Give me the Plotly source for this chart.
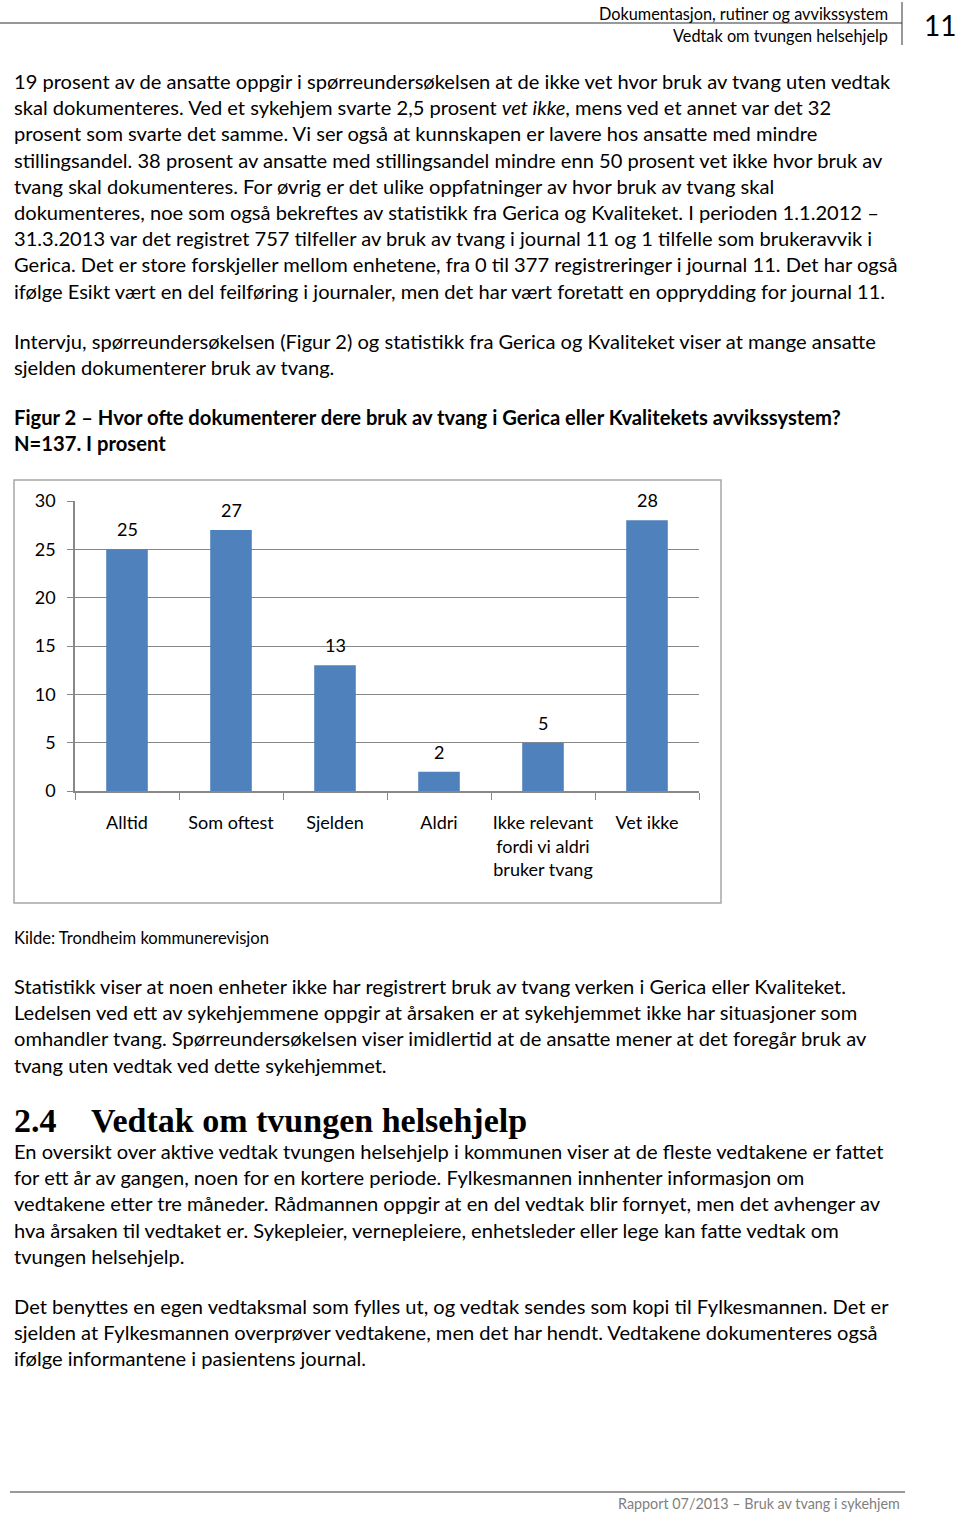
import plotly.graph_objects as go

W, H = 960, 1513
BODY = "Lato"
SERIF = "Liberation Serif"
INK = "#000000"
BAR = "#4f81bd"
GRID = "#888888"

# data (Figur 2, prosent)
categories = ["Alltid", "Som oftest", "Sjelden", "Aldri",
              "Ikke relevant<br>fordi vi aldri<br>bruker tvang", "Vet ikke"]
values = [25, 27, 13, 2, 5, 28]
y_ticks = [0, 5, 10, 15, 20, 25, 30]

header_lines = ["Dokumentasjon, rutiner og avvikssystem", "Vedtak om tvungen helsehjelp"]
page_no = "11"

para1 = [
    "19 prosent av de ansatte oppgir i spørreundersøkelsen at de ikke vet hvor bruk av tvang uten vedtak",
    "skal dokumenteres. Ved et sykehjem svarte 2,5 prosent <i>vet ikke</i>, mens ved et annet var det 32",
    "prosent som svarte det samme. Vi ser også at kunnskapen er lavere hos ansatte med mindre",
    "stillingsandel. 38 prosent av ansatte med stillingsandel mindre enn 50 prosent vet ikke hvor bruk av",
    "tvang skal dokumenteres. For øvrig er det ulike oppfatninger av hvor bruk av tvang skal",
    "dokumenteres, noe som også bekreftes av statistikk fra Gerica og Kvaliteket. I perioden 1.1.2012 –",
    "31.3.2013 var det registret 757 tilfeller av bruk av tvang i journal 11 og 1 tilfelle som brukeravvik i",
    "Gerica. Det er store forskjeller mellom enhetene, fra 0 til 377 registreringer i journal 11. Det har også",
    "ifølge Esikt vært en del feilføring i journaler, men det har vært foretatt en opprydding for journal 11.",
]
para2 = [
    "Intervju, spørreundersøkelsen (Figur 2) og statistikk fra Gerica og Kvaliteket viser at mange ansatte",
    "sjelden dokumenterer bruk av tvang.",
]
fig_title = [
    "<b>Figur 2 – Hvor ofte dokumenterer dere bruk av tvang i Gerica eller Kvalitekets avvikssystem?</b>",
    "<b>N=137. I prosent</b>",
]
source = "Kilde: Trondheim kommunerevisjon"
para3 = [
    "Statistikk viser at noen enheter ikke har registrert bruk av tvang verken i Gerica eller Kvaliteket.",
    "Ledelsen ved ett av sykehjemmene oppgir at årsaken er at sykehjemmet ikke har situasjoner som",
    "omhandler tvang. Spørreundersøkelsen viser imidlertid at de ansatte mener at det foregår bruk av",
    "tvang uten vedtak ved dette sykehjemmet.",
]
heading = "<b>2.4</b>"
heading_txt = "<b>Vedtak om tvungen helsehjelp</b>"
para4 = [
    "En oversikt over aktive vedtak tvungen helsehjelp i kommunen viser at de fleste vedtakene er fattet",
    "for ett år av gangen, noen for en kortere periode. Fylkesmannen innhenter informasjon om",
    "vedtakene etter tre måneder. Rådmannen oppgir at en del vedtak blir fornyet, men det avhenger av",
    "hva årsaken til vedtaket er. Sykepleier, vernepleiere, enhetsleder eller lege kan fatte vedtak om",
    "tvungen helsehjelp.",
]
para5 = [
    "Det benyttes en egen vedtaksmal som fylles ut, og vedtak sendes som kopi til Fylkesmannen. Det er",
    "sjelden at Fylkesmannen overprøver vedtakene, men det har hendt. Vedtakene dokumenteres også",
    "ifølge informantene i pasientens journal.",
]
footer = "Rapport 07/2013 – Bruk av tvang i sykehjem"

TXT = 20.1


def px(x):
    # page pixel -> paper fraction
    return x / W


def py(y):
    return 1 - y / H


def note(text, x, y, size, anchor="left", family=BODY, color=INK):
    return dict(text=text, x=px(x), y=py(y), xref="paper", yref="paper",
                xanchor=anchor, yanchor="middle", showarrow=False,
                font=dict(family=family, size=size, color=color))


def text_block(lines, y0, step=26.2, size=TXT):
    return [note(t, 12, y0 + i * step, size) for i, t in enumerate(lines)]


fig = go.Figure(go.Bar(x=categories, y=values, marker=dict(color=BAR, line=dict(width=0)),
                       hoverinfo="skip"))

ann = []
ann += text_block(para1, 81)
ann += text_block(para2, 341)
ann += text_block(fig_title, 417, step=26, size=20.2)
ann += text_block([source], 938, size=16.6)
ann += text_block(para3, 986)
ann += text_block(para4, 1151)
ann += text_block(para5, 1306)

# header / footer / heading
ann += [note(header_lines[0], 890, 13, 16.3, "right"),
        note(header_lines[1], 890, 35, 16.3, "right"),
        note(page_no, 958, 25, 28, "right"),
        note(footer, 902, 1503, 14.35, "right", color="#7f7f7f"),
        note(heading, 12, 1120, 34, family=SERIF),
        note(heading_txt, 89, 1120, 34, family=SERIF)]

# data labels above bars
for c, v in zip(categories, values):
    ann.append(dict(text=str(v), x=c, y=v, xref="x", yref="y", yanchor="bottom",
                    yshift=7, showarrow=False, font=dict(family=BODY, size=18, color=INK)))

shapes = [
    dict(type="line", xref="paper", yref="paper", x0=0, x1=px(902), y0=py(23), y1=py(23),
         line=dict(color="#333333", width=1)),
    dict(type="line", xref="paper", yref="paper", x0=px(902), x1=px(902), y0=py(2), y1=py(45),
         line=dict(color="#333333", width=1)),
    dict(type="line", xref="paper", yref="paper", x0=px(10), x1=px(905), y0=py(1492), y1=py(1492),
         line=dict(color="#333333", width=1)),
    dict(type="rect", xref="paper", yref="paper", x0=px(14), x1=px(721), y0=py(480), y1=py(903),
         line=dict(color="#a6a6a6", width=1.5)),
]

fig.update_layout(
    width=W, height=H, margin=dict(l=0, r=0, t=0, b=0, autoexpand=False),
    paper_bgcolor="white", plot_bgcolor="white", showlegend=False,
    font=dict(family=BODY, size=18, color=INK),
    bargap=0.6,
    xaxis=dict(domain=[px(75), px(699)], showline=True, linecolor=GRID, linewidth=1.5,
               ticks="outside", tickson="boundaries", ticklen=7, tickcolor=GRID,
               tickangle=0, ticklabelstandoff=15, showgrid=False, fixedrange=True,
               automargin=False, tickfont=dict(family=BODY, size=18, color=INK)),
    yaxis=dict(domain=[py(791), py(501)], range=[0, 30], tickvals=y_ticks,
               showline=True, linecolor=GRID, linewidth=1.5, ticks="outside", ticklen=6,
               tickcolor=GRID, showgrid=True, gridcolor=GRID, gridwidth=1.2,
               zeroline=False, ticklabelstandoff=8, fixedrange=True, automargin=False,
               tickfont=dict(family=BODY, size=18, color=INK)),
    annotations=ann, shapes=shapes,
)

# drop the default 8px body margin so the 960x1513 figure fills the window exactly
fig.write_html("out.html", config=dict(displayModeBar=False),
               post_script="document.body.style.margin='0px';")
